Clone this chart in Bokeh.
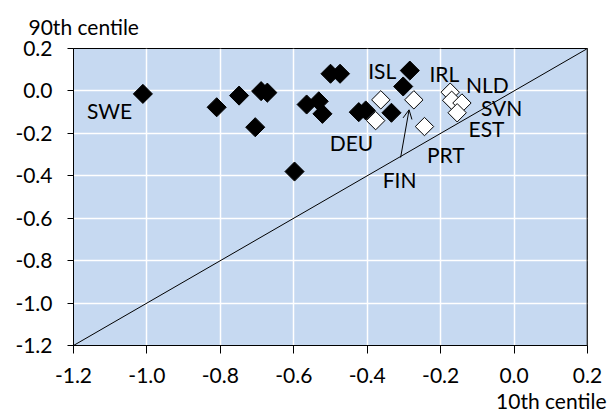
from bokeh.plotting import figure
from bokeh.models import Range1d, FixedTicker, PrintfTickFormatter, Arrow, OpenHead, Span, ColumnDataSource, Title
from bokeh.core.properties import value
from bokeh.embed import file_html
from bokeh.resources import INLINE
import math

# Data: 10th centile (x) vs 90th centile (y)
black_x = [-1.011, -0.810, -0.749, -0.689, -0.672, -0.705, -0.598, -0.565, -0.532, -0.522,
           -0.500, -0.474, -0.423, -0.404, -0.334, -0.302, -0.284]
black_y = [-0.014, -0.077, -0.022, -0.001, -0.008, -0.171, -0.380, -0.064, -0.049, -0.108,
           0.081, 0.081, -0.100, -0.092, -0.103, 0.021, 0.096]
white_x = [-0.363, -0.377, -0.273, -0.244, -0.174, -0.170, -0.142, -0.155]
white_y = [-0.042, -0.140, -0.042, -0.168, -0.006, -0.044, -0.057, -0.103]

diag = [-1.2, 0.2]
ticks = [-1.2, -1.0, -0.8, -0.6, -0.4, -0.2, 0.0, 0.2]

label_text = ["SWE", "DEU", "FIN", "PRT", "ISL", "IRL", "NLD", "SVN", "EST"]
label_x = [-1.102, -0.443, -0.312, -0.186, -0.359, -0.190, -0.073, -0.034, -0.075]
label_y = [-0.090, -0.242, -0.418, -0.300, 0.096, 0.081, 0.029, -0.080, -0.178]
arrow_start = (-0.309, -0.314)
arrow_end = (-0.286, -0.089)

FONT = "Lato"
FS = "21px"

p = figure(width=607, height=412, output_backend="svg", toolbar_location=None,
           x_range=Range1d(-1.2, 0.2), y_range=Range1d(-1.2, 0.2),
           min_border_left=73, min_border_right=20, min_border_top=48, min_border_bottom=67)
p.border_fill_color = "white"
p.background_fill_color = "#C6D9F1"
p.outline_line_color = "black"
p.outline_line_width = 1

p.add_layout(Title(text="90th centile", align="left", offset=-45, standoff=20,
                   text_font=FONT, text_font_size=FS, text_font_style="normal",
                   text_color="black"), "above")

for ax in (p.xaxis[0], p.yaxis[0]):
    ax.ticker = FixedTicker(ticks=ticks)
    ax.formatter = PrintfTickFormatter(format="%.1f")
    ax.minor_tick_line_color = None
    ax.major_tick_in = 0
    ax.axis_line_color = "black"
    ax.major_tick_line_color = "black"
    ax.major_label_text_font = FONT
    ax.major_label_text_font_size = FS
    ax.major_label_text_color = "black"
p.xaxis.major_tick_out = 8
p.xaxis.major_label_standoff = 14
p.yaxis.major_tick_out = 6
p.yaxis.major_label_standoff = 15

p.add_layout(Title(text="10th centile", align="right", offset=-19, standoff=0,
                   text_font=FONT, text_font_size=FS, text_font_style="normal",
                   text_color="black"), "below")

p.xgrid.ticker = FixedTicker(ticks=ticks)
p.ygrid.ticker = FixedTicker(ticks=ticks)
p.xgrid.grid_line_color = "white"
p.ygrid.grid_line_color = "white"
p.xgrid.grid_line_width = 1.5
p.ygrid.grid_line_width = 1.5

p.add_layout(Span(location=0.2, dimension="height", line_color="#595959", line_width=2))

p.line(diag, diag, line_color="black", line_width=1)

p.scatter(black_x, black_y, marker="square", size=13.5, angle=math.pi / 4,
          fill_color="black", line_color="black", line_width=1)
p.scatter(white_x, white_y, marker="square", size=13, angle=math.pi / 4,
          fill_color="white", line_color="black", line_width=1)

src = ColumnDataSource(dict(x=label_x, y=label_y, t=label_text))
p.text(x="x", y="y", text="t", source=src, text_font=value(FONT), text_font_size=value(FS),
       text_align="center", text_baseline="middle", text_color="black")

p.add_layout(Arrow(end=OpenHead(size=9, line_width=1, line_color="black"),
                   x_start=arrow_start[0], y_start=arrow_start[1],
                   x_end=arrow_end[0], y_end=arrow_end[1], line_width=1, line_color="black"))

open("out.html", "w").write(file_html(p, INLINE))
